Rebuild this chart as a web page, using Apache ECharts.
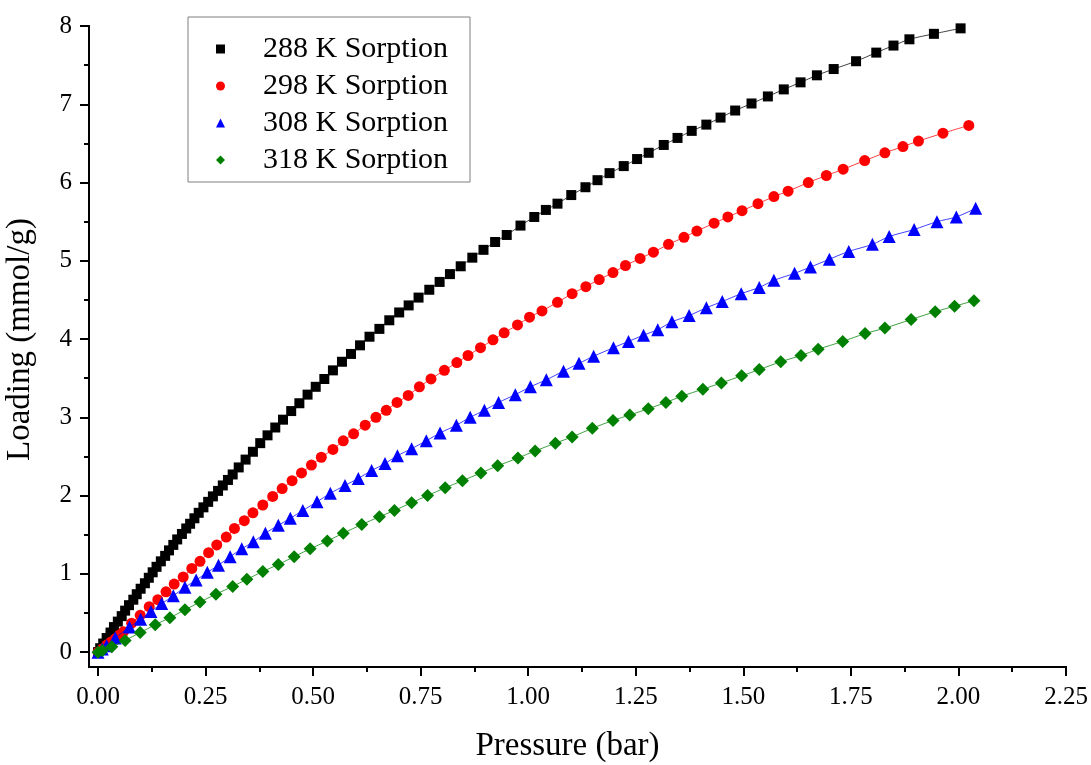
<!DOCTYPE html>
<html>
<head>
<meta charset="utf-8">
<script src="https://cdn.jsdelivr.net/npm/echarts@6/dist/echarts.min.js"></script>
<style>
html,body{margin:0;padding:0;background:#fff;}
#chart{width:1091px;height:765px;}
</style>
</head>
<body>
<div id="chart"></div>
<script>
// ---- data (pressure in bar, loading in mmol/g) ----
const p288 = [0.000,0.005,0.012,0.020,0.029,0.037,0.046,0.055,0.063,0.072,0.082,0.090,0.099,0.109,0.118,0.127,0.136,0.146,0.156,0.165,0.175,0.184,0.195,0.205,0.214,0.224,0.234,0.245,0.256,0.267,0.279,0.290,0.302,0.313,0.327,0.343,0.360,0.377,0.394,0.412,0.430,0.449,0.468,0.487,0.506,0.526,0.546,0.567,0.588,0.609,0.631,0.654,0.677,0.700,0.722,0.745,0.770,0.794,0.818,0.843,0.870,0.896,0.923,0.950,0.982,1.014,1.041,1.068,1.100,1.133,1.161,1.189,1.222,1.253,1.280,1.315,1.347,1.380,1.414,1.447,1.481,1.519,1.557,1.594,1.633,1.671,1.710,1.762,1.809,1.849,1.886,1.943,2.005];
const q288 = [0.00,0.05,0.11,0.18,0.25,0.32,0.39,0.46,0.53,0.60,0.67,0.74,0.81,0.88,0.95,1.02,1.09,1.16,1.23,1.30,1.37,1.44,1.51,1.58,1.64,1.71,1.78,1.85,1.92,1.99,2.06,2.13,2.20,2.27,2.36,2.46,2.56,2.67,2.77,2.87,2.97,3.08,3.18,3.29,3.39,3.49,3.60,3.71,3.81,3.92,4.03,4.13,4.24,4.34,4.43,4.53,4.63,4.73,4.83,4.93,5.04,5.14,5.24,5.33,5.45,5.56,5.65,5.73,5.84,5.94,6.03,6.12,6.21,6.30,6.38,6.48,6.57,6.66,6.74,6.83,6.92,7.01,7.10,7.19,7.28,7.37,7.45,7.55,7.66,7.75,7.83,7.90,7.97];

const p298 = [0.000,0.010,0.020,0.030,0.040,0.050,0.059,0.078,0.098,0.119,0.139,0.158,0.177,0.198,0.218,0.237,0.257,0.276,0.298,0.317,0.340,0.360,0.383,0.406,0.428,0.451,0.473,0.496,0.519,0.546,0.570,0.594,0.621,0.646,0.670,0.695,0.721,0.747,0.774,0.805,0.834,0.860,0.889,0.918,0.944,0.975,1.003,1.032,1.068,1.102,1.134,1.165,1.197,1.226,1.260,1.291,1.326,1.362,1.392,1.432,1.464,1.497,1.534,1.571,1.604,1.651,1.693,1.732,1.782,1.829,1.871,1.907,1.964,2.024];
const q298 = [0.00,0.04,0.09,0.13,0.17,0.22,0.26,0.37,0.47,0.58,0.67,0.77,0.87,0.96,1.07,1.16,1.27,1.37,1.47,1.58,1.68,1.78,1.88,1.99,2.09,2.19,2.29,2.39,2.49,2.59,2.70,2.79,2.90,3.00,3.09,3.19,3.28,3.39,3.49,3.60,3.70,3.79,3.89,3.99,4.08,4.18,4.28,4.36,4.47,4.58,4.67,4.76,4.85,4.94,5.03,5.11,5.21,5.30,5.38,5.48,5.56,5.64,5.73,5.82,5.89,6.00,6.09,6.17,6.28,6.38,6.46,6.53,6.63,6.73];

const p308 = [0.000,0.010,0.020,0.040,0.073,0.099,0.123,0.148,0.175,0.202,0.228,0.254,0.280,0.307,0.334,0.361,0.389,0.419,0.447,0.476,0.509,0.540,0.574,0.605,0.636,0.667,0.696,0.729,0.763,0.795,0.833,0.865,0.898,0.931,0.970,1.005,1.042,1.082,1.118,1.152,1.198,1.233,1.268,1.301,1.334,1.374,1.414,1.451,1.495,1.537,1.571,1.619,1.656,1.700,1.745,1.800,1.839,1.897,1.950,1.995,2.040];
const q308 = [0.00,0.04,0.08,0.18,0.32,0.42,0.52,0.62,0.72,0.83,0.92,1.02,1.11,1.22,1.32,1.41,1.52,1.62,1.71,1.81,1.92,2.03,2.13,2.22,2.32,2.41,2.51,2.60,2.70,2.80,2.90,3.00,3.09,3.19,3.29,3.39,3.48,3.59,3.69,3.78,3.89,3.97,4.05,4.12,4.22,4.30,4.40,4.48,4.58,4.66,4.75,4.84,4.92,5.02,5.12,5.21,5.31,5.40,5.50,5.56,5.67];

const p318 = [0.000,0.010,0.032,0.063,0.098,0.133,0.167,0.202,0.237,0.274,0.313,0.346,0.383,0.419,0.456,0.493,0.533,0.570,0.613,0.654,0.689,0.729,0.766,0.807,0.847,0.890,0.929,0.976,1.016,1.063,1.102,1.149,1.197,1.236,1.279,1.320,1.357,1.406,1.449,1.496,1.537,1.587,1.634,1.674,1.731,1.783,1.829,1.890,1.946,1.991,2.036];
const q318 = [0.00,0.02,0.07,0.15,0.25,0.35,0.44,0.54,0.64,0.74,0.84,0.93,1.03,1.12,1.22,1.32,1.42,1.52,1.63,1.73,1.81,1.91,2.00,2.10,2.19,2.29,2.38,2.48,2.57,2.67,2.75,2.86,2.96,3.03,3.11,3.19,3.27,3.36,3.44,3.53,3.61,3.71,3.79,3.87,3.97,4.07,4.14,4.25,4.35,4.42,4.49];

const seriesNames = ['288 K Sorption','298 K Sorption','308 K Sorption','318 K Sorption'];
const xMajorTicks = [0,0.25,0.5,0.75,1.0,1.25,1.5,1.75,2.0,2.25];
const xMinorTicks = [0.125,0.375,0.625,0.875,1.125,1.375,1.625,1.875,2.125];
const yMajorTicks = [0,1,2,3,4,5,6,7,8];
const yMinorTicks = [0.5,1.5,2.5,3.5,4.5,5.5,6.5,7.5];
const xTitle = 'Pressure (bar)';
const yTitle = 'Loading (mmol/g)';

// ---- chart ----
const FONT = '"Liberation Serif","Times New Roman",serif';
const zip = (a,b) => a.map((v,i)=>[v,b[i]]);
const styles = [
  {color:'#000000', symbol:'rect', size:10},
  {color:'#ff0000', symbol:'circle', size:11},
  {color:'#0000ff', symbol:'triangle', size:13},
  {color:'#008000', symbol:'diamond', size:13}
];
const datasets = [zip(p288,q288), zip(p298,q298), zip(p308,q308), zip(p318,q318)];

const XMIN = -0.021, XMAX = 2.25, YMIN = -0.19, YMAX = 8;

function xAxisDef(ticks, len, showLabel){
  return {
    type:'value', position:'bottom', min:XMIN, max:XMAX,
    name: showLabel ? xTitle : '', nameLocation:'middle', nameGap:63,
    nameTextStyle:{fontFamily:FONT, fontSize:33, color:'#000', padding:[0,20,0,0]},
    axisLine:{show:true, onZero:false, lineStyle:{color:'#000', width:2}},
    axisTick:{show:true, inside:false, length:len, customValues:ticks, lineStyle:{color:'#000', width:2}},
    axisLabel:{show:showLabel, customValues:xMajorTicks, margin:18, fontFamily:FONT, fontSize:25, color:'#000',
      formatter:v=>v.toFixed(2)},
    splitLine:{show:false}
  };
}
function yAxisDef(ticks, len, showLabel){
  return {
    type:'value', position:'left', min:YMIN, max:YMAX,
    name: showLabel ? yTitle : '', nameLocation:'middle', nameGap:52,
    nameTextStyle:{fontFamily:FONT, fontSize:33, color:'#000', padding:[0,0,0,14]},
    axisLine:{show:true, onZero:false, lineStyle:{color:'#000', width:2}},
    axisTick:{show:true, inside:false, length:len, customValues:ticks, lineStyle:{color:'#000', width:2}},
    axisLabel:{show:showLabel, customValues:yMajorTicks, margin:17, fontFamily:FONT, fontSize:25, color:'#000'},
    splitLine:{show:false}
  };
}

const chart = echarts.init(document.getElementById('chart'), null, {renderer:'canvas'});
chart.setOption({
  animation:false,
  backgroundColor:'#fff',
  grid:{left:89, right:25, top:26, bottom:98, containLabel:false, outerBoundsMode:'none'},
  xAxis:[xAxisDef(xMajorTicks, 9, true), xAxisDef(xMinorTicks, 5, false)],
  yAxis:[yAxisDef(yMajorTicks, 9, true), yAxisDef(yMinorTicks, 5, false)],
  legend:{
    orient:'vertical', left:188, top:17,
    padding:[17,22,7,28],
    itemGap:7, itemWidth:9, itemHeight:9,
    borderColor:'#7f7f7f', borderWidth:1, backgroundColor:'#fff',
    textStyle:{fontFamily:FONT, fontSize:30, color:'#000', lineHeight:30, padding:[0,0,0,33]},
    data: seriesNames.map((n,i)=>({name:n, icon:styles[i].symbol, itemStyle:{color:styles[i].color}}))
  },
  series: datasets.map((d,i)=>({
    name: seriesNames[i], type:'line', xAxisIndex:0, yAxisIndex:0,
    data:d, smooth:0.3,
    symbol: styles[i].symbol, symbolSize: styles[i].size, showAllSymbol:true,
    itemStyle:{color:styles[i].color},
    lineStyle:{color:styles[i].color, width:1, opacity:0.75},
    z: 2+i
  }))
});
</script>
</body>
</html>
